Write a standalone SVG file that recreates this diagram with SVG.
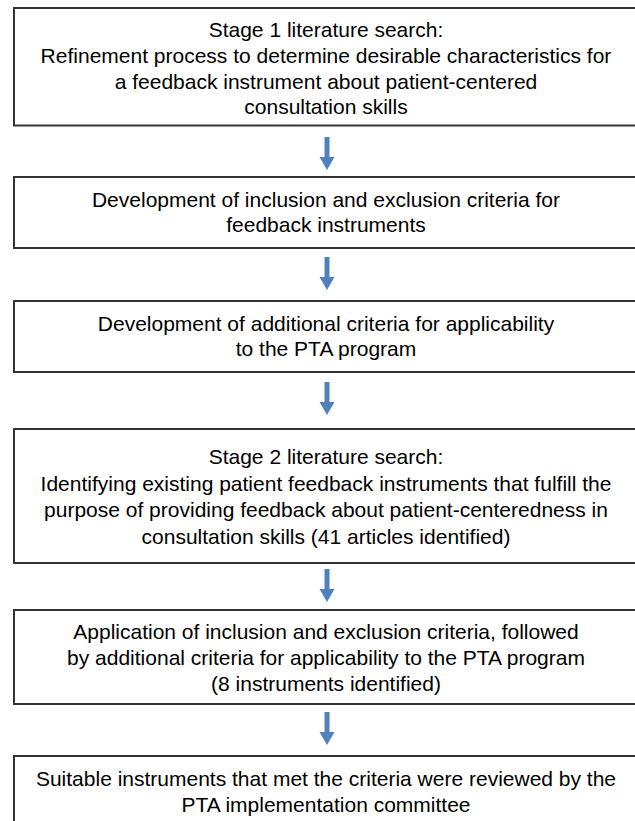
<svg xmlns="http://www.w3.org/2000/svg" width="635" height="821" viewBox="0 0 635 821">
<defs>
<style>
.box{fill:#fff;stroke:#333;stroke-width:2}
.t{font-family:"Liberation Sans",Arial,sans-serif;font-size:21px;fill:#000;text-anchor:middle}
.arr{fill:#4f81bd}
</style>
<path id="arrow" class="arr" d="M-2.5,0 H2.5 V20 H7.5 L0,33 L-7.5,20 H-2.5 Z"/>
</defs>
<rect width="635" height="821" fill="#fff"/>
<g id="connectors">
<use href="#arrow" x="327" y="137"/>
<use href="#arrow" x="327" y="257"/>
<use href="#arrow" x="327" y="382"/>
<use href="#arrow" x="327" y="569"/>
<use href="#arrow" x="327" y="712"/>
</g>
<g id="n1">
<rect class="box" x="14" y="8" width="640" height="117.5"/>
<text class="t" x="326" y="36.5">Stage 1 literature search:</text>
<text class="t" x="326" y="62.5">Refinement process to determine desirable characteristics for</text>
<text class="t" x="326" y="88.5">a feedback instrument about patient-centered</text>
<text class="t" x="326" y="113.5">consultation skills</text>
</g>
<g id="n2">
<rect class="box" x="14" y="177" width="640" height="71"/>
<text class="t" x="326" y="206.5">Development of inclusion and exclusion criteria for</text>
<text class="t" x="326" y="232">feedback instruments</text>
</g>
<g id="n3">
<rect class="box" x="14" y="301" width="640" height="71"/>
<text class="t" x="326" y="330.5">Development of additional criteria for applicability</text>
<text class="t" x="326" y="356">to the PTA program</text>
</g>
<g id="n4">
<rect class="box" x="14" y="429" width="640" height="134"/>
<text class="t" x="326" y="464">Stage 2 literature search:</text>
<text class="t" x="326" y="490.5">Identifying existing patient feedback instruments that fulfill the</text>
<text class="t" x="326" y="517">purpose of providing feedback about patient-centeredness in</text>
<text class="t" x="326" y="543.5">consultation skills (41 articles identified)</text>
</g>
<g id="n5">
<rect class="box" x="14" y="610" width="640" height="94"/>
<text class="t" x="326" y="638.5">Application of inclusion and exclusion criteria, followed</text>
<text class="t" x="326" y="664.5">by additional criteria for applicability to the PTA program</text>
<text class="t" x="326" y="690.5">(8 instruments identified)</text>
</g>
<g id="n6">
<rect class="box" x="14" y="756" width="640" height="80"/>
<text class="t" x="326" y="785.5">Suitable instruments that met the criteria were reviewed by the</text>
<text class="t" x="326" y="812">PTA implementation committee</text>
</g>
</svg>
